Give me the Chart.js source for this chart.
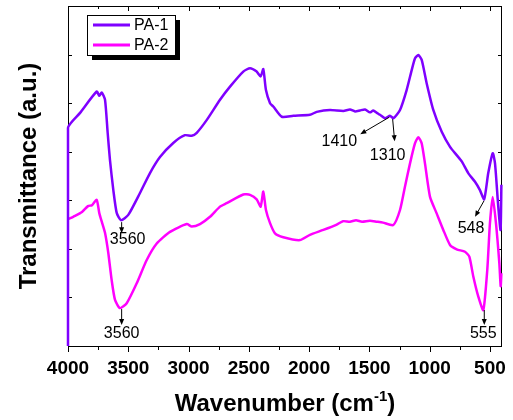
<!DOCTYPE html>
<html>
<head>
<meta charset="utf-8">
<script src="https://cdn.jsdelivr.net/npm/chart.js@4.4.1/dist/chart.umd.min.js"></script>
<style>
  html, body { margin: 0; padding: 0; background: #fff; }
</style>
</head>
<body>
<canvas id="ftir" width="513" height="420"></canvas>
<script>
// FTIR spectra, transmittance in arbitrary units (0..7 frame)
const seriesLabels = ['PA-1', 'PA-2'];
const seriesColors = ['#7f00ff', '#ff00ff'];
const xTicks = [4000, 3500, 3000, 2500, 2000, 1500, 1000, 500];
const xMinorTicks = [3750, 3250, 2750, 2250, 1750, 1250, 750];

const pa1Wave = [4000, 4000, 3900, 3762, 3740, 3720, 3693, 3671, 3652, 3624,
  3596, 3560, 3500, 3403, 3320, 3237, 3127, 3030, 2974, 2932,
  2850, 2739, 2656, 2546, 2490, 2435, 2402, 2380, 2358, 2324,
  2297, 2227, 2131, 1993, 1937, 1827, 1716, 1661, 1619, 1578,
  1536, 1495, 1468, 1437, 1412, 1371, 1329, 1300, 1246, 1191,
  1149, 1122, 1094, 1066, 1025, 970, 900, 831, 776, 734,
  680, 624, 583, 548, 514, 477, 458, 431, 412, 405];
const pa1Trans = [0, 4.49, 4.80, 5.24, 5.15, 5.22, 5.07, 4.39, 3.83, 3.21,
  2.74, 2.59, 2.70, 3.15, 3.56, 3.89, 4.18, 4.34, 4.33, 4.39,
  4.65, 5.07, 5.34, 5.65, 5.72, 5.65, 5.55, 5.70, 5.27, 5.00,
  4.93, 4.72, 4.74, 4.76, 4.82, 4.86, 4.84, 4.87, 4.83, 4.85,
  4.87, 4.81, 4.85, 4.80, 4.76, 4.69, 4.74, 4.69, 4.86, 5.27,
  5.68, 5.92, 5.99, 5.89, 5.41, 4.86, 4.41, 4.10, 3.93, 3.80,
  3.56, 3.38, 3.21, 3.02, 3.56, 3.97, 3.76, 2.87, 2.39, 3.32];

const pa2Wave = [4000, 3942, 3884, 3834, 3801, 3762, 3740, 3720, 3693, 3666,
  3638, 3610, 3569, 3513, 3430, 3347, 3264, 3154, 3015, 2974,
  2905, 2822, 2739, 2684, 2546, 2490, 2435, 2402, 2380, 2358,
  2324, 2283, 2214, 2076, 1993, 1882, 1771, 1719, 1661, 1611,
  1561, 1495, 1439, 1387, 1302, 1246, 1205, 1163, 1122, 1094,
  1066, 1039, 997, 942, 887, 831, 776, 707, 671, 638,
  597, 555, 522, 500, 477, 450, 422, 411, 405];
const pa2Trans = [2.61, 2.68, 2.76, 2.88, 2.90, 3.01, 2.73, 2.56, 2.33, 1.92,
  1.36, 0.95, 0.78, 0.88, 1.29, 1.77, 2.11, 2.35, 2.51, 2.46,
  2.51, 2.66, 2.87, 2.94, 3.12, 3.11, 3.02, 2.87, 3.18, 2.80,
  2.53, 2.32, 2.24, 2.18, 2.29, 2.39, 2.50, 2.57, 2.56, 2.59,
  2.56, 2.58, 2.56, 2.54, 2.49, 2.80, 3.28, 3.76, 4.17, 4.30,
  4.17, 3.76, 3.07, 2.73, 2.39, 2.08, 1.99, 1.94, 1.84, 1.43,
  1.02, 0.74, 1.57, 2.53, 3.07, 2.53, 1.70, 1.23, 1.50];

// peak markers: text, anchor on the curve, then arrow / label offsets in px
const peakLabels = ['3560', '1410', '1310', '548', '3560', '555'];
const peakWave = [3555, 1335, 1307, 549, 3555, 547];
const peakTrans = [2.55, 4.71, 4.67, 2.99, 0.76, 0.74];
const peakArrow = [[0, 11], [-29, 17], [2, 22], [-9, 16], [0, 16], [0, 15]];
const peakText = [[6, 17], [-50, 24], [-5, 36], [-13, 28], [0, 24.5], [-1, 23.5]];

const FONT = '"Liberation Sans", Arial, Helvetica, sans-serif';

function toPoints(wave, trans) {
  return wave.map((w, i) => ({ x: w, y: trans[i] }));
}

function arrow(ctx, x0, y0, x1, y1) {
  const ang = Math.atan2(y1 - y0, x1 - x0);
  const len = 6, half = 2.5;
  ctx.beginPath();
  ctx.moveTo(x0, y0);
  ctx.lineTo(x1 - Math.cos(ang) * len * 0.8, y1 - Math.sin(ang) * len * 0.8);
  ctx.stroke();
  ctx.beginPath();
  ctx.moveTo(x1, y1);
  ctx.lineTo(x1 - Math.cos(ang) * len - Math.sin(ang) * half, y1 - Math.sin(ang) * len + Math.cos(ang) * half);
  ctx.lineTo(x1 - Math.cos(ang) * len + Math.sin(ang) * half, y1 - Math.sin(ang) * len - Math.cos(ang) * half);
  ctx.closePath();
  ctx.fill();
}

// frame and inward / outward tick marks
const framePlugin = {
  id: 'frame',
  beforeDatasetsDraw(chart) {
    const { ctx, chartArea: a, scales: { x, y } } = chart;
    ctx.save();
    ctx.strokeStyle = '#000';
    ctx.lineWidth = 1;
    ctx.strokeRect(a.left + 0.5, a.top + 0.5, a.right - a.left - 1, a.bottom - a.top);
    ctx.beginPath();
    xTicks.forEach(v => {
      const px = Math.round(x.getPixelForValue(v)) + 0.5;
      ctx.moveTo(px, a.bottom); ctx.lineTo(px, a.bottom + 6);
      ctx.moveTo(px, a.top); ctx.lineTo(px, a.top + 5);
    });
    xMinorTicks.forEach(v => {
      const px = Math.round(x.getPixelForValue(v)) + 0.5;
      ctx.moveTo(px, a.bottom); ctx.lineTo(px, a.bottom + 4);
      ctx.moveTo(px, a.top); ctx.lineTo(px, a.top + 3);
    });
    for (let v = 1; v < 7; v++) {
      const py = Math.round(y.getPixelForValue(v)) + 0.5;
      ctx.moveTo(a.left, py); ctx.lineTo(a.left + 4, py);
      ctx.moveTo(a.right, py); ctx.lineTo(a.right - 4, py);
    }
    ctx.stroke();
    ctx.restore();
  },
  afterDatasetsDraw(chart) {
    const { ctx, scales: { x, y } } = chart;
    ctx.save();
    // peak annotations
    ctx.strokeStyle = '#000';
    ctx.fillStyle = '#000';
    ctx.lineWidth = 1;
    ctx.font = '16px ' + FONT;
    ctx.textAlign = 'center';
    ctx.textBaseline = 'middle';
    peakLabels.forEach((t, i) => {
      const px = x.getPixelForValue(peakWave[i]);
      const py = y.getPixelForValue(peakTrans[i]);
      arrow(ctx, px, py, px + peakArrow[i][0], py + peakArrow[i][1]);
      ctx.fillText(t, px + peakText[i][0], py + peakText[i][1]);
    });
    // legend box with drop shadow
    const bx = 87, by = 15, bw = 88, bh = 40;
    ctx.fillStyle = '#000';
    ctx.fillRect(bx + 5, by + 5, bw, bh);
    ctx.fillStyle = '#fff';
    ctx.fillRect(bx, by, bw, bh);
    ctx.strokeRect(bx + 0.5, by + 0.5, bw, bh);
    ctx.textAlign = 'left';
    ctx.lineWidth = 3;
    seriesLabels.forEach((lab, i) => {
      const ly = by + 10 + i * 20;
      ctx.strokeStyle = seriesColors[i];
      ctx.beginPath();
      ctx.moveTo(bx + 6, ly);
      ctx.lineTo(bx + 43, ly);
      ctx.stroke();
      ctx.fillStyle = '#000';
      ctx.fillText(lab, bx + 47, ly + 1);
    });
    ctx.restore();
  },
  afterDraw(chart) {
    const { ctx, chartArea: a } = chart;
    ctx.save();
    ctx.fillStyle = '#000';
    // x title with superscript
    const main = 'Wavenumber (cm', sup = '-1', end = ')';
    ctx.font = 'bold 24px ' + FONT;
    const w1 = ctx.measureText(main).width;
    const w3 = ctx.measureText(end).width;
    ctx.font = 'bold 15px ' + FONT;
    const w2 = ctx.measureText(sup).width;
    let sx = 285 - (w1 + w2 + w3) / 2;
    const base = 411;
    ctx.textBaseline = 'alphabetic';
    ctx.textAlign = 'left';
    ctx.font = 'bold 24px ' + FONT;
    ctx.fillText(main, sx, base);
    ctx.font = 'bold 15px ' + FONT;
    ctx.fillText(sup, sx + w1, base - 10);
    ctx.font = 'bold 24px ' + FONT;
    ctx.fillText(end, sx + w1 + w2, base);
    // y title
    ctx.translate(36, (a.top + a.bottom) / 2);
    ctx.rotate(-Math.PI / 2);
    ctx.textAlign = 'center';
    ctx.fillText('Transmittance (a.u.)', 0, 0);
    ctx.restore();
  }
};

const chart = new Chart(document.getElementById('ftir').getContext('2d'), {
  type: 'line',
  data: {
    datasets: [
      {
        label: seriesLabels[0],
        data: toPoints(pa1Wave, pa1Trans),
        borderColor: seriesColors[0],
        borderWidth: 2.5,
        pointRadius: 0,
        tension: 0.2,
        fill: false,
        clip: 3,
        order: 1,
      },
      {
        label: seriesLabels[1],
        data: toPoints(pa2Wave, pa2Trans),
        borderColor: seriesColors[1],
        borderWidth: 2.5,
        pointRadius: 0,
        tension: 0.2,
        fill: false,
        clip: 3,
        order: 2,
      },
    ],
  },
  options: {
    responsive: false,
    animation: false,
    layout: { padding: { top: 6, right: 11, left: 0, bottom: 0 } },
    plugins: {
      legend: { display: false },
      tooltip: { enabled: false },
    },
    scales: {
      x: {
        type: 'linear',
        reverse: true,
        min: 400,
        max: 4000,
        afterBuildTicks: s => { s.ticks = xTicks.map(v => ({ value: v })); },
        afterFit: s => { s.height = 74; },
        grid: { display: false },
        border: { display: false },
        ticks: {
          color: '#000',
          font: { family: FONT, size: 19, weight: 'bold' },
          padding: 3,
          maxRotation: 0,
          autoSkip: false,
          callback: v => String(v),
        },
      },
      y: {
        min: 0,
        max: 7,
        afterFit: s => { s.width = 68; },
        ticks: { display: false },
        grid: { display: false },
        border: { display: false },
      },
    },
  },
  plugins: [framePlugin],
});
</script>
</body>
</html>
